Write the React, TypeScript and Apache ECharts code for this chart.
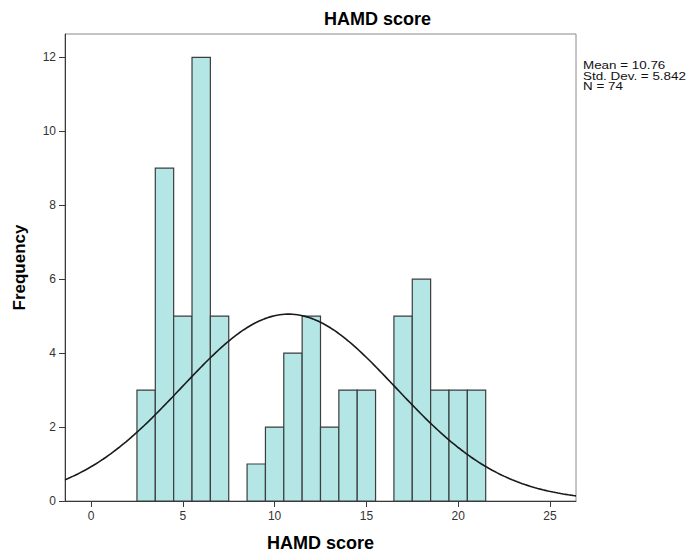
import React, { useEffect, useRef } from "react";
import * as echarts from "echarts";

// Histogram of HAMD score: bin centres (width 1) and their counts
const binCenters = [3, 4, 5, 6, 7, 8, 9, 10, 11, 12, 13, 14, 15, 16, 17, 18, 19, 20, 21];
const frequencies = [3, 9, 5, 12, 5, 0, 1, 2, 4, 5, 2, 3, 3, 0, 5, 6, 3, 3, 3];
const binWidth = 1;

// Summary statistics shown beside the plot
const mean = 10.76;
const stdDev = 5.842;
const n = 74;

const xTicks = [0, 5, 10, 15, 20, 25];
const yTicks = [0, 2, 4, 6, 8, 10, 12];
const xMin = -1.42;
const xMax = 26.42;
const yMax = 12.63;

const FONT = "'Liberation Sans', Arial, sans-serif";

// Fitted normal curve, scaled to counts (N * bin width)
function normalCurve(): number[][] {
  const pts: number[][] = [];
  const steps = 200;
  for (let i = 0; i <= steps; i++) {
    const x = xMin + ((xMax - xMin) * i) / steps;
    const z = (x - mean) / stdDev;
    const y = (n * binWidth * Math.exp(-0.5 * z * z)) / (stdDev * Math.sqrt(2 * Math.PI));
    pts.push([x, y]);
  }
  return pts;
}

export default function App() {
  const ref = useRef<HTMLDivElement>(null);

  useEffect(() => {
    if (!ref.current) return;
    const chart = echarts.init(ref.current, undefined, { renderer: "svg" });
    const barData = binCenters.map((c, i) => [c, frequencies[i]]);

    chart.setOption({
      animation: false,
      backgroundColor: "#ffffff",
      textStyle: { fontFamily: FONT },
      title: {
        text: "HAMD score",
        left: 324,
        top: 10,
        padding: 0,
        textStyle: { fontFamily: FONT, fontSize: 18, fontWeight: "bold", color: "#000" },
      },
      grid: {
        left: 65,
        right: 114,
        top: 34,
        bottom: 56,
        show: true,
        borderColor: "#8a8a8a",
        borderWidth: 1,
        backgroundColor: "transparent",
      },
      xAxis: {
        type: "value",
        min: xMin,
        max: xMax,
        name: "HAMD score",
        nameLocation: "middle",
        nameGap: 33,
        nameTextStyle: { fontFamily: FONT, fontSize: 18, fontWeight: "bold", color: "#000" },
        axisLine: { show: true, onZero: false, lineStyle: { color: "#3a3a3a", width: 1 } },
        axisTick: { show: true, length: 6, customValues: xTicks, lineStyle: { color: "#3a3a3a" } },
        axisLabel: { customValues: xTicks, margin: 9, fontSize: 12, color: "#333", fontFamily: FONT },
        splitLine: { show: false },
      },
      yAxis: {
        type: "value",
        min: 0,
        max: yMax,
        name: "Frequency",
        nameLocation: "middle",
        nameRotate: 90,
        nameGap: 37,
        nameTextStyle: { fontFamily: FONT, fontSize: 17, fontWeight: "bold", color: "#000" },
        axisLine: { show: true, onZero: false, lineStyle: { color: "#3a3a3a", width: 1 } },
        axisTick: { show: true, length: 6, customValues: yTicks, lineStyle: { color: "#3a3a3a" } },
        axisLabel: { customValues: yTicks, margin: 9, fontSize: 12, color: "#333", fontFamily: FONT },
        splitLine: { show: false },
      },
      graphic: [
        {
          type: "text",
          x: 583,
          y: 60,
          scaleX: 1.22,
          style: {
            text: `Mean = ${mean.toFixed(2)}\nStd. Dev. = ${stdDev.toFixed(3)}\nN = ${n}`,
            fontFamily: FONT,
            fontSize: 11,
            lineHeight: 10.7,
            fill: "#111",
          },
        },
      ],
      series: [
        {
          type: "custom",
          data: barData,
          clip: true,
          renderItem: (params: any, api: any) => {
            const c = api.value(0);
            const v = api.value(1);
            if (!v) return null;
            const p0 = api.coord([c - binWidth / 2, v]);
            const p1 = api.coord([c + binWidth / 2, 0]);
            return {
              type: "rect",
              shape: { x: p0[0], y: p0[1], width: p1[0] - p0[0], height: p1[1] - p0[1] },
              style: { fill: "#b4e6e6", stroke: "#3d3d3d", lineWidth: 1.2 },
            };
          },
          z: 2,
        },
        {
          type: "line",
          data: normalCurve(),
          showSymbol: false,
          smooth: false,
          clip: true,
          lineStyle: { color: "#1a1a1a", width: 1.6 },
          z: 3,
        },
      ],
    });

    return () => chart.dispose();
  }, []);

  return (
    <div
      ref={ref}
      style={{ position: "fixed", left: 0, top: 0, width: 690, height: 557, background: "#fff" }}
    />
  );
}
